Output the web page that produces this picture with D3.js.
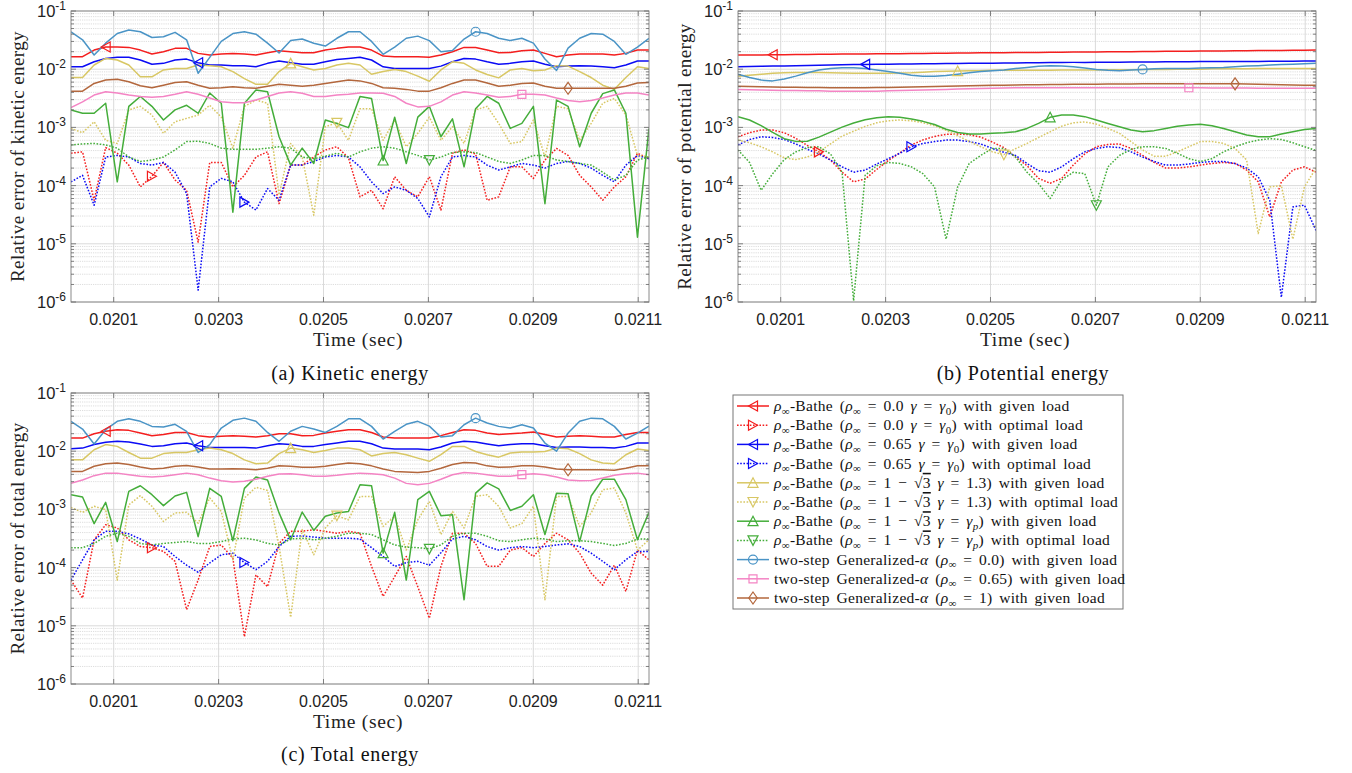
<!DOCTYPE html>
<meta charset="utf-8">
<style>
body { margin: 0; background: #fff; }
svg { font-family: "Liberation Sans", Arial, sans-serif; }
.serif { font-family: "Liberation Serif", "DejaVu Serif", serif; white-space: pre; }
</style>
<body>
<svg width="1352" height="773"></svg>
<script src="https://d3js.org/d3.v7.min.js"></script>
<script>
// time samples (sec)
var time = [0.0200186,0.0200406,0.0200627,0.0200847,0.0201068,0.0201288,0.0201508,0.0201729,0.0201949,0.0202170,
0.0202390,0.0202610,0.0202831,0.0203051,0.0203272,0.0203492,0.0203712,0.0203933,0.0204153,0.0204374,
0.0204594,0.0204814,0.0205035,0.0205255,0.0205476,0.0205696,0.0205916,0.0206137,0.0206357,0.0206578,
0.0206798,0.0207018,0.0207239,0.0207459,0.0207680,0.0207900,0.0208120,0.0208341,0.0208561,0.0208782,
0.0209002,0.0209222,0.0209443,0.0209663,0.0209884,0.0210104,0.0210324,0.0210545,0.0210765,0.0210986,
0.0211206];

var xTicks = [0.0201, 0.0203, 0.0205, 0.0207, 0.0209, 0.0211];
var xTickLabels = ["0.0201", "0.0203", "0.0205", "0.0207", "0.0209", "0.0211"];
var yDecades = [1e-6, 1e-5, 1e-4, 1e-3, 1e-2, 1e-1];
var yTickLabels = ["-6", "-5", "-4", "-3", "-2", "-1"];

/********** (a) kinetic energy **********/
var kinRed = [1.64e-2,1.64e-2,2.13e-2,2.4e-2,2.4e-2,2.37e-2,2.13e-2,1.82e-2,2.0e-2,2.28e-2,
2.28e-2,1.87e-2,1.75e-2,1.82e-2,1.87e-2,1.82e-2,1.75e-2,1.92e-2,2.08e-2,2.0e-2,
1.92e-2,1.92e-2,2.13e-2,2.28e-2,2.4e-2,2.4e-2,2.13e-2,1.68e-2,1.64e-2,1.64e-2,
1.64e-2,1.6e-2,1.75e-2,2.0e-2,2.37e-2,2.35e-2,2.13e-2,1.92e-2,1.94e-2,2.08e-2,
2.13e-2,1.87e-2,1.64e-2,1.75e-2,1.82e-2,1.82e-2,1.82e-2,1.75e-2,1.87e-2,2.13e-2,
2.13e-2];
var kinRedOpt = [3.6e-4,3.8e-4,5.6e-5,4.5e-4,3.6e-4,2.25e-4,9.5e-5,1.45e-4,2.5e-4,1.25e-4,
8.3e-5,1.07e-5,2.5e-4,2.5e-4,9.5e-5,1.5e-4,3.1e-4,3.8e-4,4.9e-5,2.25e-4,
2.25e-4,3.1e-4,4.1e-4,4.65e-4,3.0e-4,6.4e-5,8.3e-5,4.0e-5,1.42e-4,8.3e-5,
6.4e-5,1.42e-4,3.8e-5,3.6e-4,4.1e-4,3.5e-4,5.6e-5,6.4e-5,2.1e-4,2.1e-4,
1.33e-4,2.75e-4,4.35e-4,3.3e-4,1.5e-4,9.5e-5,5.6e-5,9.5e-5,1.42e-4,3.6e-4,
2.9e-4];
var kinBlue = [1.1e-2,1.1e-2,1.34e-2,1.53e-2,1.6e-2,1.6e-2,1.44e-2,1.22e-2,1.26e-2,1.44e-2,
1.49e-2,1.29e-2,1.18e-2,1.18e-2,1.15e-2,1.15e-2,1.1e-2,1.26e-2,1.38e-2,1.29e-2,
1.22e-2,1.22e-2,1.34e-2,1.47e-2,1.53e-2,1.6e-2,1.44e-2,1.1e-2,1.03e-2,1.03e-2,
1.03e-2,1.03e-2,1.13e-2,1.34e-2,1.53e-2,1.49e-2,1.34e-2,1.22e-2,1.26e-2,1.34e-2,
1.38e-2,1.22e-2,1.1e-2,1.13e-2,1.15e-2,1.13e-2,1.1e-2,1.06e-2,1.18e-2,1.38e-2,
1.38e-2];
var kinBlueOpt = [1.16e-4,1.5e-4,4.6e-5,3.1e-4,3.3e-4,3.1e-4,2.4e-4,2.25e-4,2.5e-4,1.7e-4,
7.3e-5,1.6e-6,9.5e-5,1.33e-4,1.16e-4,5.2e-5,3.8e-5,8.9e-5,5.6e-5,2.25e-4,
2.25e-4,2.6e-4,3.1e-4,3.3e-4,3.1e-4,2.1e-4,1.16e-4,7.3e-5,9.5e-5,8.3e-5,
6.0e-5,2.9e-5,1.42e-4,3.1e-4,3.3e-4,3.1e-4,2.25e-4,1.85e-4,2.1e-4,2.4e-4,
2.25e-4,2.0e-4,2.4e-4,2.6e-4,2.4e-4,2.0e-4,1.5e-4,1.16e-4,2.25e-4,3.3e-4,
2.9e-4];
var kinYel = [7.2e-3,7.2e-3,1.18e-2,1.53e-2,1.44e-2,1.18e-2,7.4e-3,7.4e-3,9.7e-3,1.03e-2,
1.03e-2,1.18e-2,1.15e-2,1.1e-2,9.1e-3,6.9e-3,5.5e-3,5.5e-3,9.1e-3,1.26e-2,
1.1e-2,9.7e-3,1.03e-2,1.18e-2,1.26e-2,1.18e-2,8.2e-3,9.1e-3,9.9e-3,9.1e-3,
7.6e-3,6.2e-3,9.7e-3,1.34e-2,1.26e-2,9.7e-3,8.1e-3,7.1e-3,9.7e-3,1.03e-2,
9.4e-3,9.7e-3,1.15e-2,1.13e-2,9.1e-3,7.2e-3,5.3e-3,4.5e-3,7.2e-3,1.1e-2,
1.03e-2];
var kinYelOpt = [9.6e-4,8.1e-4,1.25e-3,6.0e-4,5.3e-4,2.0e-3,2.3e-3,1.63e-3,7.9e-4,1.25e-3,
1.43e-3,1.63e-3,2.4e-3,1.5e-3,4.4e-4,2.3e-3,2.95e-3,2.6e-3,6.9e-5,5.3e-4,
3.1e-4,3.1e-5,1.03e-3,1.2e-3,6.0e-4,2.1e-3,2.1e-3,6.0e-4,1.34e-3,4.65e-4,
7.9e-4,1.5e-3,6.0e-4,1.03e-3,5.3e-4,2.0e-3,2.3e-3,1.17e-3,5.3e-4,5.7e-4,
1.34e-3,3.1e-4,2.3e-3,2.1e-3,6.0e-4,1.17e-3,2.6e-3,3.15e-3,1.63e-3,3.3e-4,
3.1e-4];
var kinGrn = [2.0e-3,1.75e-3,1.75e-3,2.6e-3,1.16e-4,2.3e-3,3.4e-3,2.3e-3,1.34e-3,2.0e-3,
2.4e-3,1.75e-3,3.9e-3,2.6e-3,3.5e-5,2.6e-3,4.4e-3,4.1e-3,6.9e-4,2.25e-4,
4.4e-4,2.4e-4,1.34e-3,1.17e-3,9.9e-4,3.4e-3,3.15e-3,2.7e-4,1.5e-3,2.4e-4,
1.5e-3,2.3e-3,6.9e-4,1.4e-3,2.1e-4,2.1e-3,3.4e-3,2.6e-3,9.6e-4,1.17e-3,
2.3e-3,4.9e-5,2.95e-3,2.3e-3,4.65e-4,1.75e-3,3.8e-3,4.4e-3,1.75e-3,1.3e-5,
9.6e-4];
var kinGrnOpt = [5.0e-4,5.2e-4,5.3e-4,5.0e-4,4.4e-4,3.1e-4,2.6e-4,2.75e-4,3.1e-4,4.1e-4,
5.7e-4,5.8e-4,5.3e-4,4.4e-4,4.2e-4,4.2e-4,4.2e-4,4.4e-4,4.65e-4,4.4e-4,
3.1e-4,2.9e-4,3.2e-4,3.6e-4,3.1e-4,3.8e-4,4.4e-4,4.65e-4,4.4e-4,3.8e-4,
3.3e-4,2.75e-4,3.1e-4,3.7e-4,3.8e-4,3.7e-4,3.1e-4,2.6e-4,2.4e-4,2.75e-4,
3.3e-4,3.3e-4,2.75e-4,2.6e-4,2.4e-4,2.25e-4,1.7e-4,1.25e-4,1.5e-4,2.75e-4,
3.1e-4];
var kinGA0 = [4.4e-2,3.2e-2,1.75e-2,2.8e-2,4.1e-2,4.7e-2,4.4e-2,3.5e-2,3.6e-2,4.3e-2,
3.2e-2,8.5e-3,1.6e-2,3.0e-2,4.1e-2,4.4e-2,4.0e-2,2.8e-2,1.9e-2,3.1e-2,
3.3e-2,2.8e-2,2.5e-2,3.4e-2,4.4e-2,4.4e-2,3.0e-2,1.8e-2,2.4e-2,3.4e-2,
3.7e-2,3.1e-2,2.0e-2,2.1e-2,3.3e-2,4.4e-2,4.1e-2,3.4e-2,3.1e-2,3.4e-2,
2.8e-2,1.5e-2,9.5e-3,2.3e-2,3.4e-2,4.1e-2,4.0e-2,3.0e-2,1.8e-2,2.4e-2,
3.4e-2];
var kinGA65 = [2.2e-3,2.75e-3,3.6e-3,4.1e-3,3.9e-3,3.6e-3,3.4e-3,3.3e-3,3.4e-3,3.7e-3,
4.1e-3,3.7e-3,3.2e-3,2.75e-3,2.65e-3,2.65e-3,2.95e-3,3.4e-3,3.9e-3,4.1e-3,
3.85e-3,3.4e-3,3.4e-3,3.6e-3,3.7e-3,3.9e-3,3.9e-3,3.85e-3,3.4e-3,2.6e-3,
2.25e-3,2.3e-3,2.75e-3,3.6e-3,4.1e-3,3.9e-3,3.6e-3,3.3e-3,3.4e-3,3.7e-3,
3.7e-3,3.6e-3,3.2e-3,2.9e-3,2.75e-3,2.9e-3,3.2e-3,3.6e-3,3.9e-3,3.9e-3,
3.6e-3];
var kinGA1 = [4.2e-3,4.2e-3,5.7e-3,6.5e-3,6.7e-3,6.1e-3,5.2e-3,4.8e-3,5.3e-3,5.9e-3,
6.1e-3,5.3e-3,4.7e-3,4.8e-3,5.0e-3,4.8e-3,4.7e-3,5.1e-3,5.5e-3,5.3e-3,
5.1e-3,5.3e-3,5.7e-3,6.1e-3,6.5e-3,6.3e-3,5.7e-3,4.8e-3,4.7e-3,4.5e-3,
4.2e-3,4.2e-3,4.8e-3,5.7e-3,6.5e-3,6.5e-3,5.8e-3,5.1e-3,5.3e-3,5.7e-3,
5.8e-3,5.1e-3,4.7e-3,4.7e-3,4.7e-3,4.7e-3,4.7e-3,4.7e-3,5.1e-3,5.8e-3,
5.9e-3];

/********** (b) potential energy **********/
var potRed = [1.75e-2,1.76e-2,1.76e-2,1.77e-2,1.78e-2,1.79e-2,1.79e-2,1.80e-2,1.81e-2,1.82e-2,
1.82e-2,1.83e-2,1.84e-2,1.85e-2,1.85e-2,1.86e-2,1.87e-2,1.88e-2,1.88e-2,1.89e-2,
1.90e-2,1.91e-2,1.91e-2,1.92e-2,1.93e-2,1.94e-2,1.94e-2,1.95e-2,1.96e-2,1.97e-2,
1.97e-2,1.98e-2,1.99e-2,2.00e-2,2.00e-2,2.01e-2,2.02e-2,2.03e-2,2.03e-2,2.04e-2,
2.05e-2,2.06e-2,2.06e-2,2.07e-2,2.08e-2,2.09e-2,2.09e-2,2.10e-2,2.11e-2,2.12e-2,
2.13e-2];
var potRedOpt = [6.9e-4,8.1e-4,9.0e-4,9.0e-4,8.1e-4,6.5e-4,4.9e-4,3.8e-4,2.75e-4,1.7e-4,
1.16e-4,1.3e-4,1.9e-4,2.7e-4,3.65e-4,5.0e-4,6.1e-4,7.0e-4,7.6e-4,7.7e-4,
7.5e-4,6.8e-4,5.6e-4,4.5e-4,3.1e-4,2.2e-4,1.33e-4,1.1e-4,1.33e-4,2.25e-4,
3.5e-4,4.65e-4,5.1e-4,5.2e-4,4.35e-4,3.3e-4,2.5e-4,2.0e-4,2.0e-4,2.1e-4,
2.25e-4,2.4e-4,2.5e-4,2.4e-4,1.85e-4,1.16e-4,2.9e-5,1.16e-4,1.85e-4,2.1e-4,
1.7e-4];
var potBlue = [1.10e-2,1.11e-2,1.12e-2,1.13e-2,1.14e-2,1.15e-2,1.16e-2,1.17e-2,1.18e-2,1.19e-2,
1.20e-2,1.21e-2,1.22e-2,1.22e-2,1.23e-2,1.23e-2,1.24e-2,1.24e-2,1.25e-2,1.25e-2,
1.26e-2,1.26e-2,1.27e-2,1.28e-2,1.28e-2,1.29e-2,1.29e-2,1.30e-2,1.30e-2,1.31e-2,
1.31e-2,1.32e-2,1.32e-2,1.32e-2,1.33e-2,1.33e-2,1.33e-2,1.34e-2,1.34e-2,1.34e-2,
1.35e-2,1.35e-2,1.35e-2,1.36e-2,1.36e-2,1.36e-2,1.37e-2,1.37e-2,1.37e-2,1.38e-2,
1.38e-2];
var potBlueOpt = [5.0e-4,6.2e-4,6.9e-4,6.7e-4,6.2e-4,5.2e-4,4.2e-4,3.5e-4,2.75e-4,2.1e-4,
1.7e-4,1.85e-4,2.35e-4,2.9e-4,3.6e-4,4.65e-4,5.3e-4,5.7e-4,6.05e-4,6.05e-4,
5.7e-4,5.2e-4,4.35e-4,3.75e-4,3.3e-4,2.4e-4,1.8e-4,1.7e-4,2.1e-4,2.9e-4,
3.8e-4,4.35e-4,4.65e-4,4.5e-4,3.8e-4,3.1e-4,2.6e-4,2.25e-4,2.25e-4,2.35e-4,
2.5e-4,2.6e-4,2.6e-4,2.4e-4,2.0e-4,1.42e-4,5.6e-5,1.2e-6,4.3e-5,4.6e-5,
1.7e-5];
var potYel = [7.6e-3,7.9e-3,8.2e-3,8.5e-3,8.7e-3,8.8e-3,8.8e-3,8.8e-3,8.7e-3,8.6e-3,
8.5e-3,8.5e-3,8.5e-3,8.5e-3,8.6e-3,8.7e-3,8.9e-3,9.1e-3,9.2e-3,9.3e-3,
9.4e-3,9.4e-3,9.55e-3,9.55e-3,9.55e-3,9.55e-3,9.55e-3,9.55e-3,9.7e-3,9.7e-3,
9.7e-3,9.7e-3,9.8e-3,9.8e-3,9.8e-3,9.9e-3,9.9e-3,9.9e-3,1.0e-2,1.0e-2,
1.0e-2,1.02e-2,1.02e-2,1.02e-2,1.02e-2,1.03e-2,1.03e-2,1.03e-2,1.03e-2,1.03e-2,
1.03e-2];
var potYelOpt = [6.05e-4,5.45e-4,4.65e-4,3.8e-4,3.0e-4,2.8e-4,3.1e-4,3.8e-4,5.2e-4,7.1e-4,
8.6e-4,1.04e-3,1.2e-3,1.3e-3,1.34e-3,1.3e-3,1.2e-3,1.07e-3,8.9e-4,7.2e-4,
5.75e-4,4.65e-4,3.8e-4,3.4e-4,4.3e-4,5.3e-4,6.7e-4,8.4e-4,1.05e-3,1.2e-3,
1.24e-3,1.14e-3,9.6e-4,7.9e-4,5.7e-4,4.1e-4,3.2e-4,3.2e-4,3.8e-4,4.65e-4,
5.7e-4,5.7e-4,5.3e-4,4.35e-4,2.75e-4,1.5e-5,9.5e-5,1.0e-4,1.2e-5,9.5e-5,
2.0e-4];
var potGrn = [1.53e-3,1.34e-3,1.07e-3,8.2e-4,6.4e-4,5.75e-4,5.8e-4,6.8e-4,8.3e-4,1.01e-3,
1.19e-3,1.35e-3,1.47e-3,1.53e-3,1.49e-3,1.39e-3,1.27e-3,1.12e-3,9.3e-4,8.2e-4,
7.7e-4,7.7e-4,7.9e-4,8.1e-4,8.4e-4,9.6e-4,1.17e-3,1.49e-3,1.63e-3,1.63e-3,
1.53e-3,1.34e-3,1.17e-3,1.03e-3,9.0e-4,8.4e-4,8.8e-4,9.6e-4,1.05e-3,1.1e-3,
1.13e-3,1.07e-3,9.6e-4,8.4e-4,7.4e-4,6.9e-4,6.9e-4,7.7e-4,8.4e-4,9.2e-4,
9.6e-4];
var potGrnOpt = [4.1e-4,2.5e-4,8.3e-5,1.6e-4,2.8e-4,3.8e-4,4.5e-4,4.65e-4,3.5e-4,1.7e-4,
1.05e-6,1.5e-4,2.2e-4,2.5e-4,2.4e-4,2.1e-4,1.6e-4,9.5e-5,1.2e-5,9.5e-5,
2.4e-4,3.3e-4,4.35e-4,4.35e-4,3.1e-4,1.7e-4,1.08e-4,6.0e-5,1.25e-4,1.7e-4,
1.6e-4,4.6e-5,2.1e-4,3.3e-4,4.2e-4,4.65e-4,4.65e-4,4.35e-4,3.6e-4,2.9e-4,
2.6e-4,2.9e-4,3.8e-4,4.65e-4,5.45e-4,6.05e-4,6.4e-4,6.2e-4,5.45e-4,4.65e-4,
4.0e-4];
var potGA0 = [8.2e-3,7.2e-3,6.5e-3,6.3e-3,6.8e-3,7.6e-3,8.7e-3,9.7e-3,1.03e-2,1.06e-2,
1.06e-2,1.03e-2,9.7e-3,9.1e-3,8.5e-3,7.9e-3,7.6e-3,7.6e-3,7.8e-3,8.2e-3,
8.7e-3,9.1e-3,9.4e-3,9.7e-3,1.03e-2,1.07e-2,1.12e-2,1.15e-2,1.13e-2,1.1e-2,
1.05e-2,9.9e-3,9.55e-3,9.4e-3,9.7e-3,9.9e-3,1.02e-2,1.03e-2,1.03e-2,1.03e-2,
1.05e-2,1.06e-2,1.07e-2,1.1e-2,1.13e-2,1.15e-2,1.18e-2,1.2e-2,1.22e-2,1.24e-2,
1.26e-2];
var potGA65 = [4.5e-3,4.45e-3,4.4e-3,4.35e-3,4.3e-3,4.3e-3,4.25e-3,4.25e-3,4.2e-3,4.2e-3,
4.2e-3,4.2e-3,4.2e-3,4.25e-3,4.3e-3,4.35e-3,4.4e-3,4.45e-3,4.5e-3,4.55e-3,
4.6e-3,4.65e-3,4.7e-3,4.75e-3,4.8e-3,4.8e-3,4.8e-3,4.8e-3,4.8e-3,4.8e-3,
4.8e-3,4.8e-3,4.8e-3,4.8e-3,4.8e-3,4.8e-3,4.8e-3,4.8e-3,4.8e-3,4.8e-3,
4.8e-3,4.75e-3,4.75e-3,4.75e-3,4.75e-3,4.7e-3,4.7e-3,4.7e-3,4.7e-3,4.7e-3,
4.7e-3];
var potGA1 = [5.1e-3,5.05e-3,5.0e-3,4.95e-3,4.9e-3,4.9e-3,4.85e-3,4.85e-3,4.8e-3,4.8e-3,
4.8e-3,4.8e-3,4.85e-3,4.85e-3,4.9e-3,4.95e-3,5.0e-3,5.05e-3,5.1e-3,5.15e-3,
5.2e-3,5.25e-3,5.3e-3,5.3e-3,5.35e-3,5.4e-3,5.4e-3,5.45e-3,5.45e-3,5.5e-3,
5.5e-3,5.5e-3,5.55e-3,5.55e-3,5.55e-3,5.6e-3,5.6e-3,5.6e-3,5.6e-3,5.6e-3,
5.6e-3,5.6e-3,5.6e-3,5.6e-3,5.55e-3,5.5e-3,5.45e-3,5.4e-3,5.35e-3,5.3e-3,
5.3e-3];

/********** (c) total energy **********/
var totRed = [1.68e-2,1.68e-2,2.0e-2,2.2e-2,2.34e-2,2.28e-2,2.05e-2,1.85e-2,1.93e-2,2.1e-2,
2.1e-2,1.85e-2,1.75e-2,1.8e-2,1.85e-2,1.8e-2,1.75e-2,1.85e-2,2.0e-2,2.0e-2,
1.85e-2,1.87e-2,2.05e-2,2.2e-2,2.34e-2,2.34e-2,2.1e-2,1.75e-2,1.68e-2,1.68e-2,
1.68e-2,1.68e-2,1.85e-2,2.1e-2,2.34e-2,2.28e-2,2.05e-2,1.93e-2,2.0e-2,2.05e-2,
2.13e-2,1.93e-2,1.75e-2,1.8e-2,1.85e-2,1.8e-2,1.75e-2,1.75e-2,1.93e-2,2.1e-2,
2.1e-2];
var totRedOpt = [6.1e-5,3.0e-5,3.0e-4,5.45e-4,4.8e-4,3.0e-4,2.3e-4,2.2e-4,1.9e-4,1.28e-4,
1.9e-5,6.1e-5,2.3e-4,2.45e-4,1.45e-4,6.5e-6,7.5e-5,4.7e-5,2.6e-4,4.2e-4,
4.2e-4,4.5e-4,4.2e-4,3.9e-4,4.2e-4,3.9e-4,1.05e-4,3.2e-5,7.0e-5,1.55e-4,
4.7e-5,1.35e-5,1.05e-4,3.9e-4,3.9e-4,2.6e-4,1.05e-4,1.05e-4,2.0e-4,2.2e-4,
1.55e-4,2.6e-4,3.9e-4,3.0e-4,1.77e-4,8.0e-5,5.0e-5,1.1e-4,3.9e-5,2.0e-4,
1.36e-4];
var totBlue = [1.1e-2,1.13e-2,1.3e-2,1.42e-2,1.48e-2,1.44e-2,1.33e-2,1.21e-2,1.24e-2,1.34e-2,
1.38e-2,1.24e-2,1.16e-2,1.16e-2,1.16e-2,1.16e-2,1.13e-2,1.24e-2,1.34e-2,1.3e-2,
1.21e-2,1.21e-2,1.3e-2,1.38e-2,1.48e-2,1.48e-2,1.34e-2,1.13e-2,1.09e-2,1.09e-2,
1.09e-2,1.06e-2,1.18e-2,1.38e-2,1.48e-2,1.44e-2,1.33e-2,1.24e-2,1.3e-2,1.34e-2,
1.34e-2,1.24e-2,1.16e-2,1.18e-2,1.18e-2,1.16e-2,1.16e-2,1.13e-2,1.21e-2,1.38e-2,
1.38e-2];
var totBlueOpt = [6.1e-5,1.36e-4,3.0e-4,4.2e-4,4.2e-4,3.8e-4,3.1e-4,2.45e-4,2.3e-4,1.55e-4,
1.1e-4,8.3e-5,1.2e-4,1.66e-4,1.77e-4,1.22e-4,9.2e-5,1.28e-4,2.3e-4,3.45e-4,
3.5e-4,3.35e-4,3.2e-4,3.2e-4,3.2e-4,3.1e-4,2.2e-4,1.55e-4,1.05e-4,1.22e-4,
1.28e-4,1.1e-4,1.8e-4,3.1e-4,3.45e-4,3.0e-4,2.3e-4,2.0e-4,2.2e-4,2.3e-4,
2.2e-4,2.3e-4,2.45e-4,2.56e-4,2.3e-4,1.77e-4,1.28e-4,9.2e-5,1.36e-4,1.9e-4,
1.9e-4];
var totYel = [7.1e-3,7.1e-3,1.06e-2,1.3e-2,1.21e-2,9.5e-3,7.6e-3,7.6e-3,9.1e-3,9.5e-3,
9.5e-3,1.06e-2,1.13e-2,1.06e-2,9.1e-3,7.1e-3,6.1e-3,6.25e-3,9.1e-3,1.13e-2,
1.06e-2,9.5e-3,1.03e-2,1.13e-2,1.13e-2,1.06e-2,8.3e-3,9.1e-3,9.5e-3,8.7e-3,
7.6e-3,6.7e-3,8.7e-3,1.21e-2,1.21e-2,9.9e-3,8.7e-3,7.9e-3,9.3e-3,9.7e-3,
9.7e-3,9.9e-3,1.13e-2,1.1e-2,9.1e-3,7.1e-3,6.25e-3,6.1e-3,8.7e-3,1.09e-2,
1.03e-2];
var totYelOpt = [1.08e-3,8.9e-4,1.13e-3,9.9e-4,6.1e-5,1.2e-3,1.72e-3,1.13e-3,6.2e-4,8.7e-4,
8.9e-4,5.8e-4,1.57e-3,9.2e-4,1.36e-4,1.57e-3,2.4e-3,2.12e-3,2.3e-4,1.4e-5,
4.5e-4,1.66e-4,4.8e-4,7.8e-4,6.6e-4,1.67e-3,1.67e-3,5.1e-4,7.6e-4,2.0e-4,
6.6e-4,1.37e-3,3.7e-4,9.2e-4,4.8e-4,1.67e-3,1.79e-3,1.13e-3,4.8e-4,5.7e-4,
1.13e-3,2.8e-5,1.67e-3,1.67e-3,5.1e-4,8.7e-4,2.18e-3,2.33e-3,8.7e-4,2.0e-4,
3.0e-4];
var totGrn = [1.79e-3,1.63e-3,5.7e-4,1.32e-3,2.8e-4,2.04e-3,2.55e-3,1.79e-3,1.16e-3,1.7e-3,
1.96e-3,3.4e-4,2.3e-3,1.67e-3,2.9e-4,2.3e-3,3.6e-3,3.2e-3,8.7e-4,3.0e-4,
9.0e-4,4.35e-4,7.6e-4,8.7e-4,9.2e-4,2.65e-3,2.55e-3,1.77e-4,8.9e-4,6.1e-5,
1.47e-3,2.04e-3,7.8e-4,8.1e-4,2.8e-5,1.9e-3,2.85e-3,2.25e-3,9.6e-4,1.13e-3,
1.79e-3,3.7e-4,1.9e-3,1.86e-3,2.8e-4,1.7e-3,3.3e-3,3.3e-3,1.47e-3,3.0e-4,
8.9e-4];
var totGrnOpt = [2.2e-4,2.2e-4,2.6e-4,3.45e-4,3.9e-4,3.45e-4,2.6e-4,2.45e-4,2.6e-4,2.7e-4,
2.8e-4,2.6e-4,2.6e-4,2.8e-4,3.1e-4,3.2e-4,3.0e-4,2.6e-4,2.45e-4,3.1e-4,
3.2e-4,3.0e-4,3.2e-4,3.45e-4,3.9e-4,3.9e-4,3.7e-4,3.0e-4,2.45e-4,2.25e-4,
2.2e-4,2.1e-4,2.45e-4,3.45e-4,3.9e-4,3.9e-4,3.45e-4,2.9e-4,2.8e-4,3.0e-4,
3.2e-4,3.1e-4,2.8e-4,2.9e-4,2.9e-4,2.8e-4,2.6e-4,2.4e-4,2.6e-4,3.1e-4,
3.1e-4];
var totGA0 = [3.26e-2,2.4e-2,1.33e-2,2.34e-2,3.26e-2,3.6e-2,3.26e-2,2.67e-2,2.6e-2,2.9e-2,
2.2e-2,9.5e-3,1.3e-2,2.5e-2,3.4e-2,3.7e-2,3.26e-2,2.1e-2,1.48e-2,2.2e-2,
2.67e-2,2.4e-2,2.1e-2,2.67e-2,3.6e-2,3.6e-2,2.67e-2,1.62e-2,2.2e-2,2.9e-2,
3.26e-2,2.7e-2,1.75e-2,1.85e-2,2.85e-2,3.7e-2,3.05e-2,2.67e-2,2.5e-2,2.85e-2,
2.5e-2,1.38e-2,1.0e-2,2.05e-2,3.26e-2,3.7e-2,3.6e-2,2.67e-2,1.62e-2,2.05e-2,
2.7e-2];
var totGA65 = [2.8e-3,3.2e-3,3.8e-3,4.2e-3,4.2e-3,3.95e-3,3.7e-3,3.6e-3,3.7e-3,3.95e-3,
4.2e-3,3.95e-3,3.45e-3,3.1e-3,2.95e-3,3.05e-3,3.3e-3,3.7e-3,4.05e-3,4.1e-3,
3.95e-3,3.7e-3,3.7e-3,3.85e-3,4.05e-3,4.2e-3,4.1e-3,3.95e-3,3.45e-3,2.8e-3,
2.65e-3,2.8e-3,3.3e-3,3.95e-3,4.3e-3,4.2e-3,3.95e-3,3.7e-3,3.7e-3,3.95e-3,
4.1e-3,3.95e-3,3.6e-3,3.2e-3,3.1e-3,3.15e-3,3.45e-3,3.85e-3,4.1e-3,4.2e-3,
3.95e-3];
var totGA1 = [4.5e-3,4.5e-3,5.5e-3,6.1e-3,6.25e-3,5.9e-3,5.35e-3,4.95e-3,5.1e-3,5.5e-3,
5.7e-3,5.35e-3,4.95e-3,4.95e-3,5.0e-3,4.95e-3,4.8e-3,5.1e-3,5.6e-3,5.5e-3,
5.3e-3,5.3e-3,5.5e-3,5.9e-3,6.25e-3,6.1e-3,5.6e-3,4.95e-3,4.5e-3,4.4e-3,
4.3e-3,4.5e-3,5.1e-3,5.9e-3,6.4e-3,6.25e-3,5.6e-3,5.3e-3,5.35e-3,5.6e-3,
5.6e-3,5.35e-3,4.95e-3,4.8e-3,4.8e-3,4.8e-3,4.8e-3,4.7e-3,5.1e-3,5.6e-3,
5.6e-3];

var kinetic = [kinRed, kinRedOpt, kinBlue, kinBlueOpt, kinYel, kinYelOpt, kinGrn, kinGrnOpt, kinGA0, kinGA65, kinGA1];
var potential = [potRed, potRedOpt, potBlue, potBlueOpt, potYel, potYelOpt, potGrn, potGrnOpt, potGA0, potGA65, potGA1];
var total = [totRed, totRedOpt, totBlue, totBlueOpt, totYel, totYelOpt, totGrn, totGrnOpt, totGA0, totGA65, totGA1];

// legend / style of each series
var labels = [
  "ρ_∞-Bathe (ρ_∞ = 0.0 γ = γ_0) with given load",
  "ρ_∞-Bathe (ρ_∞ = 0.0 γ = γ_0) with optimal load",
  "ρ_∞-Bathe (ρ_∞ = 0.65 γ = γ_0) with given load",
  "ρ_∞-Bathe (ρ_∞ = 0.65 γ = γ_0) with optimal load",
  "ρ_∞-Bathe (ρ_∞ = 1 − √3 γ = 1.3) with given load",
  "ρ_∞-Bathe (ρ_∞ = 1 − √3 γ = 1.3) with optimal load",
  "ρ_∞-Bathe (ρ_∞ = 1 − √3 γ = γ_p) with given load",
  "ρ_∞-Bathe (ρ_∞ = 1 − √3 γ = γ_p) with optimal load",
  "two-step Generalized-α (ρ_∞ = 0.0) with given load",
  "two-step Generalized-α (ρ_∞ = 0.65) with given load",
  "two-step Generalized-α (ρ_∞ = 1) with given load"
];
var colors = ["#f41e1e", "#f41e1e", "#0b0bf5", "#0b0bf5", "#d8c764", "#d8c764",
              "#44ad3a", "#44ad3a", "#4a94c6", "#f484c4", "#b3673d"];
var dotted = [false, true, false, true, false, true, false, true, false, false, false];
var markers = ["left", "right", "left", "right", "up", "down", "up", "down", "circle", "square", "diamond"];
var markerIdx = [3, 7, 11, 15, 19, 23, 27, 31, 35, 39, 43];

/********************************
 * DRAW
 ********************************/
var svg = d3.select("svg");
svg.append("rect").attr("width", 1352).attr("height", 773).attr("fill", "#fff");

var panels = [
  {id: "a", x0: 71, x1: 649, y0: 11, y1: 302, data: kinetic,
   ylabel: "Relative error of kinetic energy", ylabX: 24, caption: "(a) Kinetic energy", capX: 350, capY: 380},
  {id: "b", x0: 738, x1: 1316, y0: 11, y1: 302, data: potential,
   ylabel: "Relative error of potential energy", ylabX: 691, caption: "(b) Potential energy", capX: 1023, capY: 380},
  {id: "c", x0: 71, x1: 649, y0: 393, y1: 684, data: total,
   ylabel: "Relative error of total energy", ylabX: 24, caption: "(c) Total energy", capX: 350, capY: 761}
];

function markerPath(type) {
  switch (type) {
    case "left":  return "M-4.5,0L4.5,-5L4.5,5Z";
    case "right": return "M4.5,0L-4.5,-5L-4.5,5Z";
    case "up":    return "M0,-5L5,4.5L-5,4.5Z";
    case "down":  return "M0,5L5,-4.5L-5,-4.5Z";
    case "square": return "M-4,-4H4V4H-4Z";
    case "diamond": return "M0,-6L4.2,0L0,6L-4.2,0Z";
    default: return "M4.5,0A4.5,4.5 0 1,1 -4.5,0A4.5,4.5 0 1,1 4.5,0Z";
  }
}

panels.forEach(function(p) {
  var x = d3.scaleLinear().domain([time[0], time[time.length - 1]]).range([p.x0, p.x1]);
  var y = d3.scaleLog().domain([1e-6, 1e-1]).range([p.y1, p.y0]);
  var g = svg.append("g");

  g.append("clipPath").attr("id", "clip-" + p.id)
    .append("rect").attr("x", p.x0).attr("y", p.y0)
    .attr("width", p.x1 - p.x0).attr("height", p.y1 - p.y0);

  // minor grid
  var minor = [];
  yDecades.slice(0, -1).forEach(function(d) {
    for (var m = 2; m <= 9; m++) minor.push(d * m);
  });
  g.selectAll(".minor").data(minor).enter().append("line")
    .attr("x1", p.x0).attr("x2", p.x1)
    .attr("y1", function(d) { return y(d); }).attr("y2", function(d) { return y(d); })
    .attr("stroke", "#cfcfcf").attr("stroke-width", 0.7).attr("stroke-dasharray", "1.2,1");
  // major grid
  g.selectAll(".gy").data(yDecades).enter().append("line")
    .attr("x1", p.x0).attr("x2", p.x1)
    .attr("y1", function(d) { return y(d); }).attr("y2", function(d) { return y(d); })
    .attr("stroke", "#d6d6d6").attr("stroke-width", 0.9);
  g.selectAll(".gx").data(xTicks).enter().append("line")
    .attr("y1", p.y0).attr("y2", p.y1)
    .attr("x1", function(d) { return x(d); }).attr("x2", function(d) { return x(d); })
    .attr("stroke", "#d6d6d6").attr("stroke-width", 0.9);

  // lines
  var line = d3.line()
    .x(function(d, i) { return x(time[i]); })
    .y(function(d) { return y(d); });
  var lg = g.append("g").attr("clip-path", "url(#clip-" + p.id + ")");
  p.data.forEach(function(s, k) {
    lg.append("path").datum(s)
      .attr("d", line)
      .attr("fill", "none")
      .attr("stroke", colors[k])
      .attr("stroke-width", 1.5)
      .attr("stroke-linejoin", "round")
      .attr("stroke-dasharray", dotted[k] ? "1.6,1.6" : null);
  });
  p.data.forEach(function(s, k) {
    var mi = markerIdx[k];
    lg.append("path")
      .attr("d", markerPath(markers[k]))
      .attr("transform", "translate(" + x(time[mi]) + "," + y(s[mi]) + ")")
      .attr("fill", "none").attr("stroke", colors[k]).attr("stroke-width", 1.2);
  });

  // box
  g.append("rect").attr("x", p.x0).attr("y", p.y0)
    .attr("width", p.x1 - p.x0).attr("height", p.y1 - p.y0)
    .attr("fill", "none").attr("stroke", "#8a8a8a").attr("stroke-width", 1);

  // ticks (inside, on all sides)
  var tk = g.append("g").attr("stroke", "#666").attr("stroke-width", 0.8);
  yDecades.forEach(function(d) {
    tk.append("line").attr("x1", p.x0).attr("x2", p.x0 + 5).attr("y1", y(d)).attr("y2", y(d));
    tk.append("line").attr("x1", p.x1).attr("x2", p.x1 - 5).attr("y1", y(d)).attr("y2", y(d));
  });
  minor.forEach(function(d) {
    tk.append("line").attr("x1", p.x0).attr("x2", p.x0 + 3).attr("y1", y(d)).attr("y2", y(d));
    tk.append("line").attr("x1", p.x1).attr("x2", p.x1 - 3).attr("y1", y(d)).attr("y2", y(d));
  });
  xTicks.forEach(function(d) {
    tk.append("line").attr("x1", x(d)).attr("x2", x(d)).attr("y1", p.y1).attr("y2", p.y1 - 5);
    tk.append("line").attr("x1", x(d)).attr("x2", x(d)).attr("y1", p.y0).attr("y2", p.y0 + 5);
  });

  // tick labels
  yDecades.forEach(function(d, i) {
    var t = g.append("text").attr("x", p.x0 - 5).attr("y", y(d) + 6)
      .attr("text-anchor", "end").attr("font-size", "16.5px").attr("fill", "#222");
    t.append("tspan").text("10");
    t.append("tspan").attr("dy", -7).attr("font-size", "12px").text(yTickLabels[i]);
  });
  xTicks.forEach(function(d, i) {
    g.append("text").attr("x", x(d)).attr("y", p.y1 + 23)
      .attr("text-anchor", "middle").attr("font-size", "16px").attr("fill", "#222")
      .text(xTickLabels[i]);
  });

  // axis labels and caption
  g.append("text").attr("class", "serif")
    .attr("transform", "translate(" + p.ylabX + "," + (p.y0 + p.y1) / 2 + ") rotate(-90)")
    .attr("text-anchor", "middle").attr("font-size", "19px").attr("letter-spacing", "0.4px")
    .attr("fill", "#222").text(p.ylabel);
  g.append("text").attr("class", "serif")
    .attr("x", (p.x0 + p.x1) / 2 - 2).attr("y", p.y1 + 44)
    .attr("text-anchor", "middle").attr("font-size", "19.5px").attr("letter-spacing", "0.7px")
    .attr("fill", "#222").text("Time (sec)");
  g.append("text").attr("class", "serif")
    .attr("x", p.capX).attr("y", p.capY)
    .attr("text-anchor", "middle").attr("font-size", "20px").attr("letter-spacing", "0.7px")
    .attr("fill", "#111").text(p.caption);
});

/********************************
 * LEGEND
 ********************************/
function richText(t, str) {
  var segs = [], i = 0, j;
  while (i < str.length) {
    var c = str[i];
    if (c === "_") { segs.push({t: str[i + 1], sub: true, it: str[i + 1] === "p"}); i += 2; }
    else if (c === "√") { segs.push({t: "√"}); segs.push({t: str[i + 1], over: true}); i += 2; }
    else if ("ργα".indexOf(c) >= 0) { segs.push({t: c, it: true}); i++; }
    else {
      j = i;
      while (j < str.length && "_√ργα".indexOf(str[j]) < 0) j++;
      segs.push({t: str.slice(i, j)}); i = j;
    }
  }
  var shift = 0;
  segs.forEach(function(s) {
    var ts = t.append("tspan").text(s.t);
    var target = s.sub ? 3.5 : 0;
    if (target !== shift) { ts.attr("dy", target - shift); shift = target; }
    if (s.sub) ts.attr("font-size", "11px");
    if (s.it) ts.attr("font-style", "italic");
    if (s.over) ts.style("text-decoration", "overline");
  });
}

var leg = svg.append("g");
leg.append("rect").attr("x", 733).attr("y", 395).attr("width", 390).attr("height", 214)
  .attr("fill", "#fff").attr("stroke", "#777").attr("stroke-width", 1);
labels.forEach(function(lab, k) {
  var yy = 406 + k * 19.2;
  leg.append("line").attr("x1", 737).attr("x2", 769).attr("y1", yy).attr("y2", yy)
    .attr("stroke", colors[k]).attr("stroke-width", 1.5)
    .attr("stroke-dasharray", dotted[k] ? "1.6,1.6" : null);
  leg.append("path").attr("d", markerPath(markers[k]))
    .attr("transform", "translate(753," + yy + ")")
    .attr("fill", "none").attr("stroke", colors[k]).attr("stroke-width", 1.2);
  var t = leg.append("text").attr("class", "serif")
    .attr("x", 774).attr("y", yy + 5).attr("font-size", "15.5px")
    .attr("letter-spacing", "0.3px").attr("word-spacing", "2.5px").attr("fill", "#111");
  richText(t, lab);
});
</script>
</body>
